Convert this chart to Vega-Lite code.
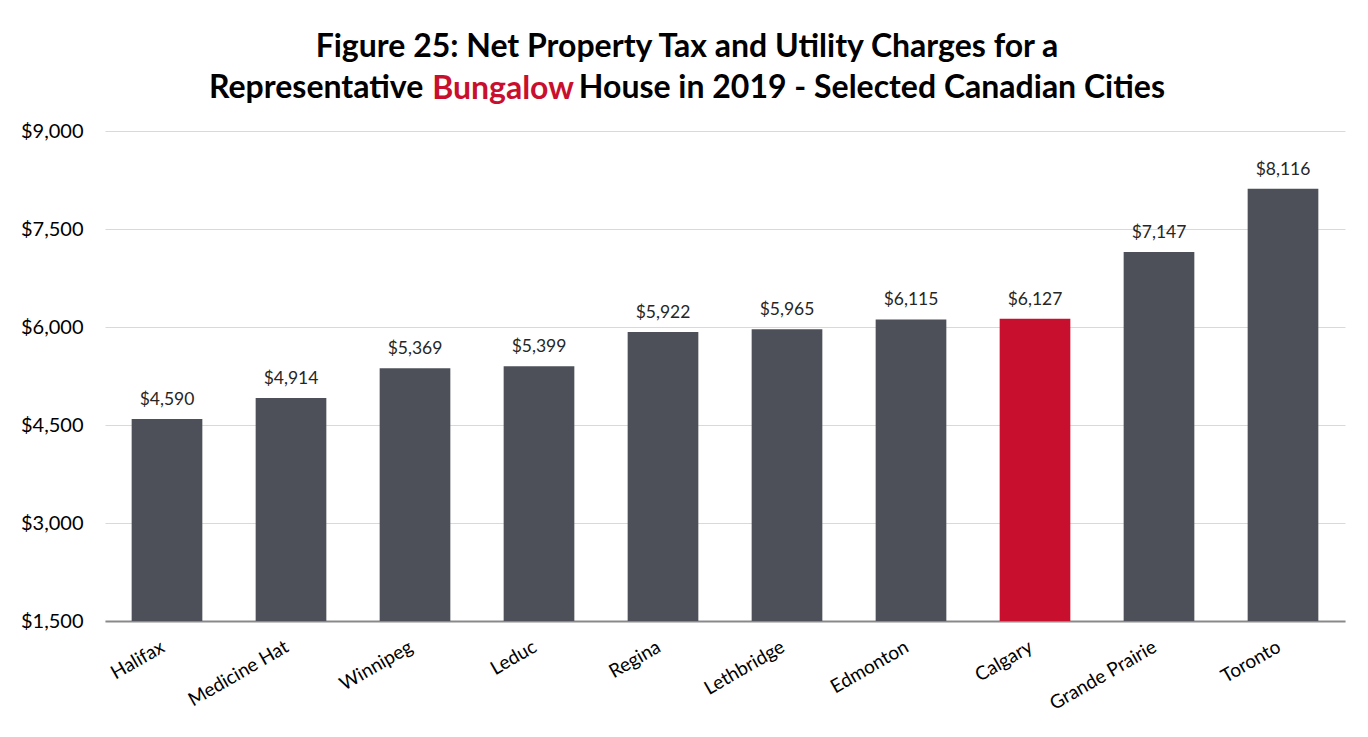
{
  "$schema": "https://vega.github.io/schema/vega-lite/v6.json",
  "autosize": "none",
  "width": 1240,
  "height": 490,
  "padding": {"left": 105, "top": 131, "right": 23, "bottom": 116},
  "background": "white",
  "title": {
    "text": ["Figure 25: Net Property Tax and Utility Charges for a", "Representative \u2003\u2003\u2003\u2003\u2003\u2002\u2009 House in 2019 - Selected Canadian Cities"],
    "subtitle": "Bungalow\u2003\u2003\u2003\u2003\u2003\u2003\u2003\u2003\u2003\u2003\u2003\u2003\u2003\u2003\u2003\u2005\u2060",
    "font": "Lato",
    "fontSize": 32,
    "fontWeight": "bold",
    "color": "#000000",
    "lineHeight": 41,
    "subtitleFont": "Lato",
    "subtitleFontSize": 32,
    "subtitleFontWeight": "bold",
    "subtitleColor": "#c8102e",
    "subtitleLineHeight": 41,
    "subtitlePadding": -31,
    "anchor": "middle",
    "dx": -38,
    "offset": 15
  },
  "data": {
    "values": [
      {"city": "Halifax", "value": 4590, "group": "Other"},
      {"city": "Medicine Hat", "value": 4914, "group": "Other"},
      {"city": "Winnipeg", "value": 5369, "group": "Other"},
      {"city": "Leduc", "value": 5399, "group": "Other"},
      {"city": "Regina", "value": 5922, "group": "Other"},
      {"city": "Lethbridge", "value": 5965, "group": "Other"},
      {"city": "Edmonton", "value": 6115, "group": "Other"},
      {"city": "Calgary", "value": 6127, "group": "Calgary"},
      {"city": "Grande Prairie", "value": 7147, "group": "Other"},
      {"city": "Toronto", "value": 8116, "group": "Other"}
    ]
  },
  "encoding": {
    "x": {
      "field": "city",
      "type": "nominal",
      "sort": null,
      "scale": {"paddingInner": 0.43, "paddingOuter": 0.215},
      "axis": {
        "title": null,
        "labelAngle": -30,
        "labelAlign": "right",
        "labelBaseline": "middle",
        "labelFont": "Lato",
        "labelFontSize": 19,
        "labelColor": "#000000",
        "labelPadding": 24,
        "labelOffset": -4,
        "ticks": false,
        "domainColor": "#898989",
        "domainWidth": 2,
        "grid": false
      }
    },
    "y": {
      "field": "value",
      "type": "quantitative",
      "scale": {"domain": [1500, 9000], "nice": false, "zero": false},
      "axis": {
        "title": null,
        "values": [1500, 3000, 4500, 6000, 7500, 9000],
        "format": "$,.0f",
        "labelFont": "Lato",
        "labelFontSize": 20,
        "labelColor": "#000000",
        "labelPadding": 22,
        "ticks": false,
        "domain": false,
        "gridColor": "#d9d9d9",
        "gridWidth": 1.2
      }
    }
  },
  "layer": [
    {
      "mark": {"type": "bar", "clip": true},
      "encoding": {
        "color": {
          "field": "group",
          "type": "nominal",
          "scale": {"domain": ["Other", "Calgary"], "range": ["#4d5058", "#c8102e"]},
          "legend": null
        }
      }
    },
    {
      "mark": {"type": "text", "baseline": "bottom", "dy": -10, "font": "Lato", "fontSize": 17.5, "color": "#262626"},
      "encoding": {
        "text": {"field": "value", "type": "quantitative", "format": "$,.0f"}
      }
    }
  ],
  "config": {"view": {"stroke": null}}
}
